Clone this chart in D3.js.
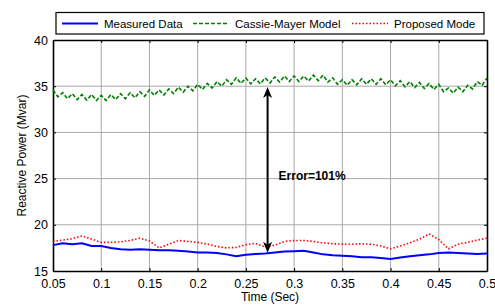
<!DOCTYPE html>
<html>
<head>
<meta charset="utf-8">
<script src="https://cdn.jsdelivr.net/npm/d3@7"></script>
<style>
  body { margin: 0; background: #fff; }
  text { font-family: Arial, "Liberation Sans", sans-serif; }
</style>
</head>
<body>
<div id="chart"></div>
<script>
// time axis of the measured / proposed curves (0.01 s step)
const timeCoarse = d3.range(46).map((i) => +(0.05 + i * 0.01).toFixed(2));
// time axis of the Cassie-Mayer curve (0.005 s step, it has a ripple)
const timeFine = d3.range(91).map((i) => +(0.05 + i * 0.005).toFixed(3));

const measured = [
  17.8, 18.0, 17.9, 18.0, 17.7, 17.7, 17.5, 17.35, 17.3, 17.35,
  17.3, 17.25, 17.25, 17.2, 17.1, 17.0, 17.0, 16.95, 16.8, 16.6,
  16.75, 16.85, 16.9, 17.0, 17.1, 17.15, 17.2, 17.0, 16.8, 16.7,
  16.65, 16.6, 16.5, 16.5, 16.4, 16.3, 16.45, 16.6, 16.7, 16.8,
  16.95, 17.0, 16.95, 16.9, 16.85, 16.9,
];

const proposed = [
  18.2, 18.35, 18.5, 18.8, 18.45, 18.1, 18.1, 18.15, 18.3, 18.55,
  18.25, 17.5, 17.9, 18.3, 18.2, 18.1, 17.9, 17.65, 17.5, 17.55,
  17.85, 18.0, 17.6, 17.8, 18.2, 18.3, 18.3, 18.2, 18.05, 17.95,
  17.9, 17.9, 17.95, 17.9, 17.7, 17.4, 17.7, 18.05, 18.45, 19.0,
  18.4, 17.4, 17.9, 18.1, 18.35, 18.55,
];

const cassieMayer = [
  34.6, 33.85, 34.3, 33.65, 34.2, 33.55, 34.1, 33.5, 34.1, 33.45,
  34.0, 33.45, 34.1, 33.55, 34.2, 33.65, 34.3, 33.75, 34.4, 33.9,
  34.6, 34.0, 34.6, 34.05, 34.7, 34.2, 34.9, 34.35, 35.0, 34.5,
  35.2, 34.65, 35.3, 34.8, 35.5, 35.0, 35.7, 35.2, 35.9, 35.3,
  35.9, 35.25, 35.8, 35.25, 35.9, 35.35, 36.0, 35.45, 36.1, 35.5,
  36.1, 35.5, 36.1, 35.55, 36.2, 35.6, 36.2, 35.45, 35.9, 35.2,
  35.7, 35.1, 35.7, 35.15, 35.8, 35.2, 35.8, 35.2, 35.8, 35.15,
  35.7, 35.05, 35.6, 34.95, 35.5, 34.85, 35.4, 34.75, 35.3, 34.65,
  35.2, 34.4, 34.8, 34.25, 34.9, 34.4, 35.1, 34.7, 35.5, 35.1,
  35.9,
];

const xTicks = [0.05, 0.1, 0.15, 0.2, 0.25, 0.3, 0.35, 0.4, 0.45, 0.5];
const yTicks = [15, 20, 25, 30, 35, 40];
const legendNames = ["Measured Data", "Cassie-Mayer Model", "Proposed Mode"];

// error annotation: arrow between the two levels at t = 0.2725
const errorAt = 0.2725;
const errorRange = [34.9, 16.97];

const width = 495, height = 305;
const margin = { top: 40, right: 8, bottom: 34, left: 53 };

const svg = d3.select("#chart").append("svg")
  .attr("width", width).attr("height", height);

const x = d3.scaleLinear().domain([0.05, 0.5]).range([margin.left, width - margin.right]);
const y = d3.scaleLinear().domain([15, 40]).range([height - margin.bottom, margin.top]);

// grid
svg.append("g").selectAll("line").data(xTicks.slice(1, -1)).enter().append("line")
  .attr("x1", (d) => x(d)).attr("x2", (d) => x(d))
  .attr("y1", y(15)).attr("y2", y(40))
  .attr("stroke", "#a8a8a8").attr("stroke-width", 1);
svg.append("g").selectAll("line").data(yTicks.slice(1, -1)).enter().append("line")
  .attr("x1", x(0.05)).attr("x2", x(0.5))
  .attr("y1", (d) => y(d)).attr("y2", (d) => y(d))
  .attr("stroke", "#a8a8a8").attr("stroke-width", 1);

// axes, ticks inside
const fmtX = (d) => String(d);
svg.append("g").attr("transform", `translate(0,${y(15)})`)
  .call(d3.axisBottom(x).tickValues(xTicks).tickFormat(fmtX).tickSizeInner(-3).tickSizeOuter(0).tickPadding(8));
svg.append("g").attr("transform", `translate(0,${y(40)})`)
  .call(d3.axisTop(x).tickValues(xTicks).tickFormat("").tickSizeInner(-3).tickSizeOuter(0));
svg.append("g").attr("transform", `translate(${x(0.05)},0)`)
  .call(d3.axisLeft(y).tickValues(yTicks).tickSizeInner(-3).tickSizeOuter(0).tickPadding(5));
svg.append("g").attr("transform", `translate(${x(0.5)},0)`)
  .call(d3.axisRight(y).tickValues(yTicks).tickFormat("").tickSizeInner(-3).tickSizeOuter(0));

svg.selectAll(".domain").attr("stroke", "#000").attr("stroke-width", 1.6);
svg.selectAll(".tick line").attr("stroke", "#000");
svg.selectAll(".tick text").attr("font-size", 12.5).attr("fill", "#000")
  .style("font-family", "Arial, 'Liberation Sans', sans-serif");

// series
const line = d3.line().x((d) => x(d[0])).y((d) => y(d[1]));

svg.append("path").datum(d3.zip(timeFine, cassieMayer))
  .attr("d", line).attr("fill", "none")
  .attr("stroke", "#008000").attr("stroke-width", 1.6).attr("stroke-dasharray", "4,2");

svg.append("path").datum(d3.zip(timeCoarse, proposed))
  .attr("d", line).attr("fill", "none")
  .attr("stroke", "#ff0000").attr("stroke-width", 1.6).attr("stroke-dasharray", "1.5,2");

svg.append("path").datum(d3.zip(timeCoarse, measured))
  .attr("d", line).attr("fill", "none")
  .attr("stroke", "#0000ff").attr("stroke-width", 2);

// error arrow
const ax = x(errorAt), aTop = y(errorRange[0]), aBot = y(errorRange[1]);
svg.append("line").attr("x1", ax).attr("x2", ax)
  .attr("y1", aTop + 6).attr("y2", aBot - 6)
  .attr("stroke", "#000").attr("stroke-width", 2);
svg.append("path")
  .attr("d", `M${ax},${aTop} L${ax - 4.5},${aTop + 11} L${ax},${aTop + 8} L${ax + 4.5},${aTop + 11} Z`)
  .attr("fill", "#000");
svg.append("path")
  .attr("d", `M${ax},${aBot} L${ax - 4.5},${aBot - 11} L${ax},${aBot - 8} L${ax + 4.5},${aBot - 11} Z`)
  .attr("fill", "#000");
svg.append("text").attr("x", ax + 11).attr("y", 179.5)
  .attr("font-size", 12).attr("font-weight", "bold").text("Error=101%");

// axis labels
svg.append("text").attr("x", x(0.275)).attr("y", 301)
  .attr("text-anchor", "middle").attr("font-size", 12).text("Time (Sec)");
svg.append("text").attr("transform", `translate(26,${y(27.5)}) rotate(-90)`)
  .attr("text-anchor", "middle").attr("font-size", 12).text("Reactive Power (Mvar)");

// legend
const legend = svg.append("g");
legend.append("rect").attr("x", 56).attr("y", 12.5).attr("width", 428).attr("height", 21.5)
  .attr("fill", "#fff").attr("stroke", "#000").attr("stroke-width", 1.2);
const legendItems = [
  { x: 62, color: "#0000ff", dash: null, w: 2 },
  { x: 193, color: "#008000", dash: "4,2", w: 1.6 },
  { x: 352, color: "#ff0000", dash: "1.5,2", w: 1.6 },
];
legendItems.forEach((d, i) => {
  legend.append("line").attr("x1", d.x).attr("x2", d.x + 36)
    .attr("y1", 23.5).attr("y2", 23.5)
    .attr("stroke", d.color).attr("stroke-width", d.w).attr("stroke-dasharray", d.dash);
  legend.append("text").attr("x", d.x + 42).attr("y", 28)
    .attr("font-size", 11.5).text(legendNames[i]);
});
</script>
</body>
</html>
